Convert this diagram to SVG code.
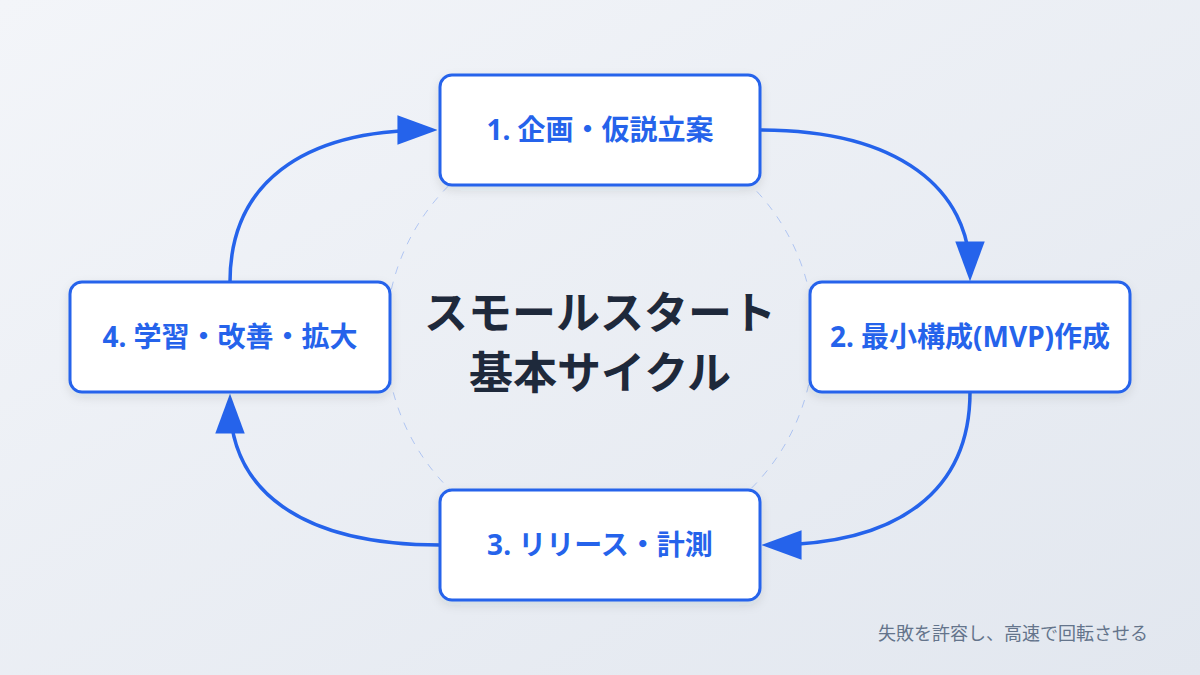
<svg xmlns="http://www.w3.org/2000/svg" width="1200" height="675" viewBox="0 0 1200 675">
  <defs>
    <linearGradient id="bg" x1="0" y1="0" x2="1" y2="1">
      <stop offset="0" stop-color="#f3f5f9"/>
      <stop offset="1" stop-color="#e2e7ef"/>
    </linearGradient>
    <filter id="shadow" x="-10%" y="-20%" width="120%" height="150%">
      <feDropShadow dx="0" dy="4" stdDeviation="5" flood-color="#1e293b" flood-opacity="0.10"/>
    </filter>
    <marker id="arrow" markerUnits="userSpaceOnUse" markerWidth="40" markerHeight="30" viewBox="0 0 38 28" refX="30" refY="14" orient="auto">
      <path d="M0,0 L38,14 L0,28 Z" fill="#2563eb"/>
    </marker>
    <style>
      .box { fill: #ffffff; stroke: #2563eb; stroke-width: 3; filter: url(#shadow); }
      .label { font-family: "Noto Sans", "Noto Sans CJK JP", sans-serif; font-weight: 700; font-size: 28px; fill: #2563eb; text-anchor: middle; }
      .title { font-family: "Noto Sans CJK JP", "Noto Sans", sans-serif; font-weight: 700; font-size: 44px; fill: #1e293b; text-anchor: middle; }
      .note { font-family: "Noto Sans CJK JP", "Noto Sans", sans-serif; font-size: 18px; fill: #64748b; text-anchor: end; }
      .conn { fill: none; stroke: #2563eb; stroke-width: 3.5; marker-end: url(#arrow); }
    </style>
  </defs>

  <rect x="0" y="0" width="1200" height="675" fill="url(#bg)"/>

  <circle cx="600" cy="337" r="214" fill="none" stroke="#2563eb" stroke-opacity="0.3" stroke-width="1" stroke-dasharray="8 8"/>

  <g id="title">
    <text class="title" x="600" y="329">スモールスタート</text>
    <text class="title" x="600" y="389">基本サイクル</text>
  </g>

  <g id="connectors">
    <path class="conn" d="M760,130 C900,130 970,190 970,273"/>
    <path class="conn" d="M970,392 C970,490 900,545 770,545"/>
    <path class="conn" d="M440,545 C300,545 230,490 230,402"/>
    <path class="conn" d="M230,282 C230,185 300,130 429,130"/>
  </g>

  <g id="node1">
    <rect class="box" x="440" y="75" width="320" height="110" rx="12"/>
    <text class="label" x="600" y="140">1. 企画・仮説立案</text>
  </g>
  <g id="node2">
    <rect class="box" x="810" y="282" width="320" height="110" rx="12"/>
    <text class="label" x="970" y="347">2. 最小構成(MVP)作成</text>
  </g>
  <g id="node3">
    <rect class="box" x="440" y="490" width="320" height="110" rx="12"/>
    <text class="label" x="600" y="555">3. リリース・計測</text>
  </g>
  <g id="node4">
    <rect class="box" x="70" y="282" width="320" height="110" rx="12"/>
    <text class="label" x="230" y="347">4. 学習・改善・拡大</text>
  </g>

  <text id="footer" class="note" x="1148" y="640">失敗を許容し、高速で回転させる</text>
</svg>
